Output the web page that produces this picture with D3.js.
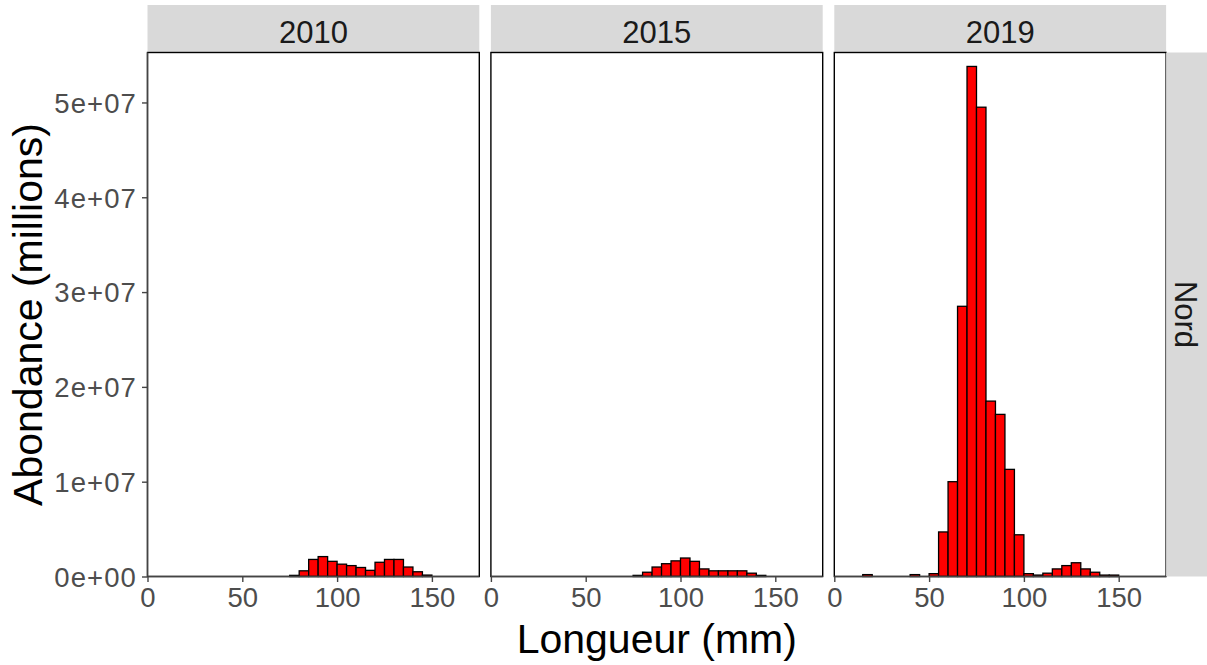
<!DOCTYPE html>
<html>
<head>
<meta charset="utf-8">
<script src="https://cdn.jsdelivr.net/npm/d3@7"></script>
<style>
  html, body { margin: 0; padding: 0; background: #ffffff; }
  svg { display: block; font-family: "Liberation Sans", Arial, sans-serif; }
</style>
</head>
<body>
<svg id="chart" width="1207" height="665"></svg>
<script>
// Length-frequency histograms of abundance, one facet per survey year (region: Nord)
const years = ["2010", "2015", "2019"];
const region = "Nord";
const binWidth = 5; // mm

// Left edge of each 5 mm length class, and abundance in that class
const len2010 = [75, 80, 85, 90, 95, 100, 105, 110, 115, 120, 125, 130, 135, 140, 145];
const abd2010 = [0.12e6, 0.6e6, 1.8e6, 2.1e6, 1.6e6, 1.3e6, 1.15e6, 0.95e6, 0.65e6, 1.5e6, 1.8e6, 1.8e6, 1.0e6, 0.5e6, 0.15e6];

const len2015 = [75, 80, 85, 90, 95, 100, 105, 110, 115, 120, 125, 130, 135, 140];
const abd2015 = [0.12e6, 0.45e6, 1.0e6, 1.35e6, 1.65e6, 1.95e6, 1.6e6, 0.8e6, 0.6e6, 0.6e6, 0.6e6, 0.6e6, 0.35e6, 0.12e6];

const len2019 = [15, 40, 50, 55, 60, 65, 70, 75, 80, 85, 90, 95, 100, 105, 110, 115, 120, 125, 130, 135, 140, 145];
const abd2019 = [0.2e6, 0.2e6, 0.3e6, 4.7e6, 1.0e7, 2.85e7, 5.38e7, 4.95e7, 1.85e7, 1.71e7, 1.13e7, 4.4e6, 0.3e6, 0.15e6, 0.35e6, 0.8e6, 1.15e6, 1.45e6, 0.8e6, 0.45e6, 0.15e6, 0.15e6];

const xTicks = [0, 50, 100, 150];
const yTicks = [0, 1e7, 2e7, 3e7, 4e7, 5e7];
const yTickLabels = ["0e+00", "1e+07", "2e+07", "3e+07", "4e+07", "5e+07"];
const xTitle = "Longueur (mm)";
const yTitle = "Abondance (millions)";

const series = [
  { year: years[0], len: len2010, abd: abd2010 },
  { year: years[1], len: len2015, abd: abd2015 },
  { year: years[2], len: len2019, abd: abd2019 }
];

// Layout
const panelLeft0 = 147.5, panelW = 331.8, panelGap = 11.6;
const panelTop = 52.5, panelBottom = 576.5;
const stripTop = 5;
const rightStripW = 41;

const svg = d3.select("#chart");

const x = d3.scaleLinear().domain([0, 175]).range([0, panelW]);
const y = d3.scaleLinear().domain([0, 5.527e7]).range([panelBottom, panelTop]);

const axisCol = "#444444";
const tickTextCol = "#4d4d4d";

series.forEach((s, i) => {
  const left = panelLeft0 + i * (panelW + panelGap);
  const g = svg.append("g").attr("transform", `translate(${left},0)`);

  // strip
  g.append("rect")
    .attr("x", 0).attr("y", stripTop)
    .attr("width", panelW).attr("height", panelTop - stripTop)
    .attr("fill", "#d9d9d9");
  g.append("text")
    .attr("x", panelW / 2).attr("y", 43.3)
    .attr("text-anchor", "middle")
    .attr("font-size", 31)
    .attr("fill", "#1a1a1a")
    .text(s.year);

  // bars
  const data = s.len.map((l, k) => ({ l, v: s.abd[k] }));
  g.append("g").selectAll("rect")
    .data(data)
    .join("rect")
    .attr("x", d => x(d.l))
    .attr("width", d => x(d.l + binWidth) - x(d.l))
    .attr("y", d => y(d.v))
    .attr("height", d => y(0) - y(d.v))
    .attr("fill", "#ff0000")
    .attr("stroke", "#000000")
    .attr("stroke-width", 1.3);

  // panel border
  g.append("rect")
    .attr("x", 0).attr("y", panelTop)
    .attr("width", panelW).attr("height", panelBottom - panelTop)
    .attr("fill", "none")
    .attr("stroke", "#000000")
    .attr("stroke-width", 1.4);

  // x axis
  const xa = g.append("g")
    .attr("transform", `translate(0,${panelBottom})`)
    .call(d3.axisBottom(x).tickValues(xTicks).tickSize(5.5).tickPadding(4).tickFormat(d3.format("d")));
  xa.select(".domain").attr("stroke", axisCol).attr("stroke-width", 1.4)
    .attr("d", `M0,0H${panelW}`);
  xa.selectAll(".tick line").attr("stroke", axisCol).attr("stroke-width", 1.4);
  xa.selectAll(".tick text")
    .attr("font-size", 27.5).attr("fill", tickTextCol)
    .attr("font-family", "Liberation Sans, Arial, sans-serif")
    .attr("dy", "0.75em");

  // y axis on first panel only
  if (i === 0) {
    const ya = g.append("g")
      .call(d3.axisLeft(y).tickValues(yTicks).tickSize(5.5).tickPadding(5)
        .tickFormat((d, k) => yTickLabels[k]));
    ya.select(".domain").attr("stroke", axisCol).attr("stroke-width", 1.4)
      .attr("d", `M0,${panelTop}V${panelBottom}`);
    ya.selectAll(".tick line").attr("stroke", axisCol).attr("stroke-width", 1.4);
    ya.selectAll(".tick text")
      .attr("font-size", 27.5).attr("fill", tickTextCol)
      .attr("letter-spacing", "1.1px")
      .attr("font-family", "Liberation Sans, Arial, sans-serif")
      .attr("dy", "0.36em");
  }
});

// right-hand strip with the region label
const lastRight = panelLeft0 + 3 * panelW + 2 * panelGap;
svg.append("rect")
  .attr("x", lastRight).attr("y", panelTop)
  .attr("width", rightStripW).attr("height", panelBottom - panelTop)
  .attr("fill", "#d9d9d9");
svg.append("text")
  .attr("transform", `translate(${lastRight + 20.5},${(panelTop + panelBottom) / 2}) rotate(90)`)
  .attr("text-anchor", "middle")
  .attr("dy", "0.36em")
  .attr("font-size", 31)
  .attr("fill", "#1a1a1a")
  .text(region);

// axis titles
svg.append("text")
  .attr("x", panelLeft0 + (3 * panelW + 2 * panelGap) / 2)
  .attr("y", 653)
  .attr("text-anchor", "middle")
  .attr("font-size", 41)
  .attr("fill", "#000000")
  .text(xTitle);

svg.append("text")
  .attr("transform", `translate(42,${(panelTop + panelBottom) / 2}) rotate(-90)`)
  .attr("text-anchor", "middle")
  .attr("font-size", 41)
  .attr("fill", "#000000")
  .text(yTitle);
</script>
</body>
</html>
